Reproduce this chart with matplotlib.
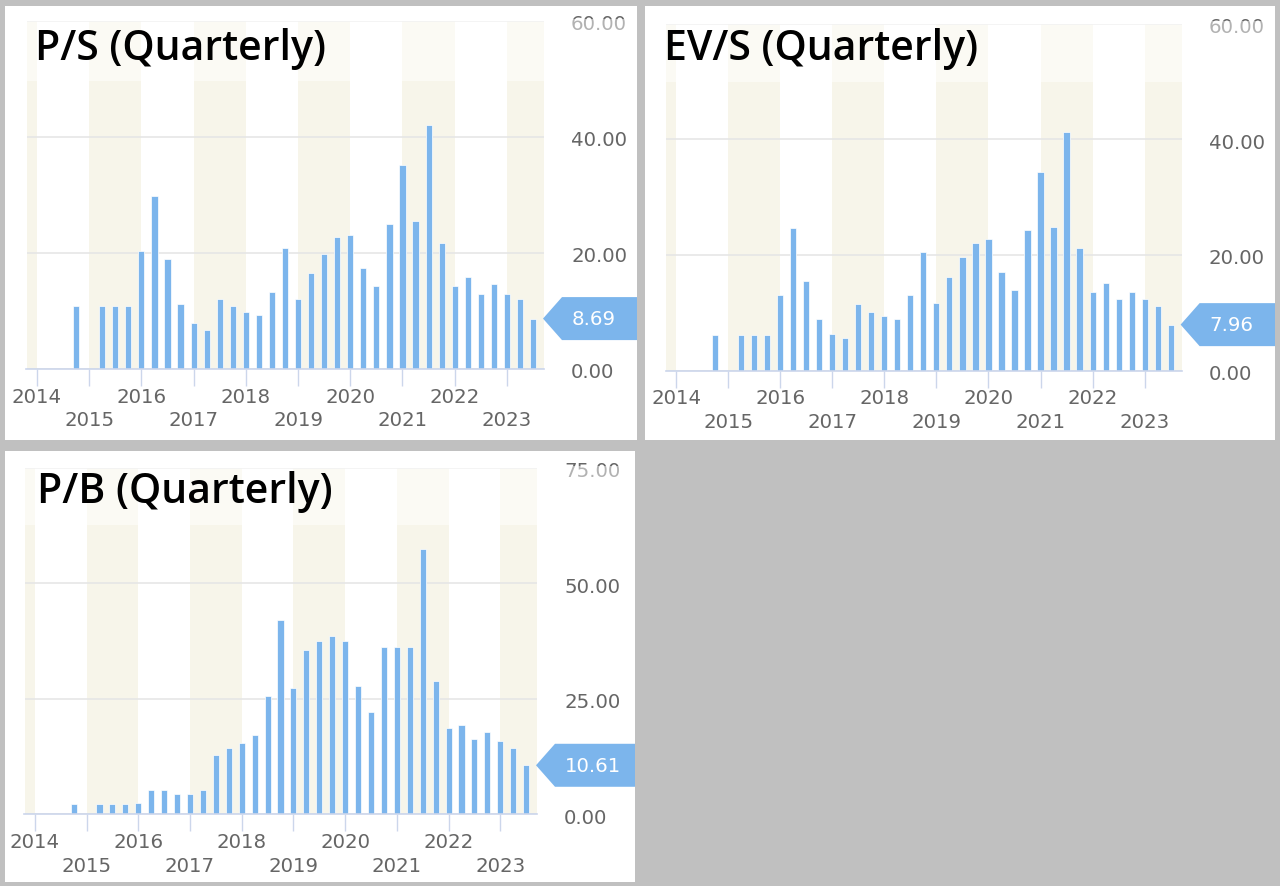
import matplotlib
matplotlib.use("Agg")
import matplotlib.pyplot as plt
import matplotlib.patches as mpatches
import matplotlib.transforms as mtransforms
from matplotlib.ticker import FormatStrFormatter

# ---------------- data ----------------
dates = ["2014-10",
         "2015-04", "2015-07", "2015-10",
         "2016-01", "2016-04", "2016-07", "2016-10",
         "2017-01", "2017-04", "2017-07", "2017-10",
         "2018-01", "2018-04", "2018-07", "2018-10",
         "2019-01", "2019-04", "2019-07", "2019-10",
         "2020-01", "2020-04", "2020-07", "2020-10",
         "2021-01", "2021-04", "2021-07", "2021-10",
         "2022-01", "2022-04", "2022-07", "2022-10",
         "2023-01", "2023-04", "2023-07"]

ps_values = [10.9, 10.9, 10.9, 10.9, 20.3, 29.8, 19.0, 11.2, 8.0, 6.8, 12.1, 10.9,
             9.9, 9.3, 13.3, 20.9, 12.1, 16.6, 19.9, 22.8, 23.1, 17.5, 14.3, 25.0,
             35.1, 25.6, 42.0, 21.8, 14.3, 15.9, 13.0, 14.6, 13.0, 12.1, 8.69]

evs_values = [6.1, 6.1, 6.1, 6.1, 13.0, 24.6, 15.5, 8.9, 6.4, 5.7, 11.5, 10.2,
              9.5, 8.9, 13.0, 20.5, 11.7, 16.2, 19.6, 22.1, 22.7, 17.1, 13.9, 24.3,
              34.4, 24.9, 41.3, 21.2, 13.6, 15.2, 12.4, 13.6, 12.4, 11.1, 7.96]

pb_values = [2.2, 2.2, 2.2, 2.2, 2.5, 5.3, 5.3, 4.5, 4.5, 5.3, 12.8, 14.3,
             15.5, 17.1, 25.7, 42.0, 27.3, 35.5, 37.5, 38.6, 37.5, 27.7, 22.2, 36.2,
             36.2, 36.2, 57.5, 28.8, 18.7, 19.4, 16.3, 17.9, 15.9, 14.3, 10.61]

titles = ["P/S (Quarterly)", "EV/S (Quarterly)", "P/B (Quarterly)"]
y_ticks_ps = [0, 20, 40, 60]
y_ticks_evs = [0, 20, 40, 60]
y_ticks_pb = [0, 25, 50, 75]
years = list(range(2014, 2024))

# ---------------- style ----------------
W, H = 1280, 886
BG = "#c0c0c0"
BAR = "#7cb5ec"
BAND = "#f7f5ea"
GRID = "#e6e6e6"
AXIS = "#ccd6eb"
LABEL = "#666666"

fig = plt.figure(figsize=(W / 100, H / 100), dpi=100)
fig.patch.set_facecolor(BG)

x_pos = [int(d[:4]) + (int(d[5:]) - 1) / 12 for d in dates]


def fx(px):
    return px / W


def fy(py):
    return 1 - py / H


def panel(box, plot, values, yticks, title, title_xy, overlay_bottom):
    px0, py0, px1, py1 = box
    # white card
    fig.add_artist(mpatches.Rectangle((fx(px0), fy(py1)), fx(px1 - px0), (py1 - py0) / H,
                                      transform=fig.transFigure, facecolor="white",
                                      edgecolor="none", zorder=-5))
    l, t, r, b = plot
    ax = fig.add_axes([fx(l), fy(b), fx(r - l), (b - t) / H])
    ax.set_facecolor("none")
    ax.set_xlim(2013.80, 2023.71)
    ax.set_ylim(yticks[0], yticks[-1])

    # alternating year bands
    band_edges = [2013.0] + [y for y in years] + [2024.5]
    for i in range(len(band_edges) - 1):
        if i % 2 == 0:
            ax.axvspan(band_edges[i], band_edges[i + 1], color=BAND, lw=0, zorder=0.1)

    ax.set_axisbelow(True)
    ax.yaxis.grid(True, color=GRID, lw=1.2)
    ax.bar(x_pos, values, width=0.118, color=BAR, edgecolor="white", linewidth=0.5, zorder=2)

    for s in ["left", "top", "right"]:
        ax.spines[s].set_visible(False)
    ax.spines["bottom"].set_color(AXIS)
    ax.spines["bottom"].set_linewidth(1.2)
    ax.spines["bottom"].set_zorder(3)

    # x ticks: even years on first row, odd years on second row
    ax.set_xticks([y for y in years if y % 2 == 0])
    ax.set_xticks([y for y in years if y % 2 == 1], minor=True)
    ax.set_xticklabels([str(y) for y in years if y % 2 == 0])
    ax.set_xticklabels([str(y) for y in years if y % 2 == 1], minor=True)
    ax.tick_params(axis="x", which="both", direction="out", length=12.2, width=1,
                   color=AXIS, labelcolor=LABEL, labelsize=14.2)
    ax.tick_params(axis="x", which="major", pad=1.2)
    ax.tick_params(axis="x", which="minor", pad=18.2)

    # y ticks on the right
    ax.yaxis.tick_right()
    ax.set_yticks(yticks)
    ax.yaxis.set_major_formatter(FormatStrFormatter("%.2f"))
    ax.tick_params(axis="y", length=0, pad=19.5, labelcolor=LABEL, labelsize=14.2)
    off = mtransforms.ScaledTranslation(0, -2 / 100, fig.dpi_scale_trans)
    for lab in ax.get_yticklabels():
        lab.set_transform(lab.get_transform() + off)

    # semi-transparent white title overlay
    fig.add_artist(mpatches.Rectangle((fx(px0), fy(overlay_bottom)), fx(px1 - px0),
                                      (overlay_bottom - t + 2) / H,
                                      transform=fig.transFigure, facecolor="white",
                                      edgecolor="none", alpha=0.5, zorder=5))
    fig.text(fx(title_xy[0]), fy(title_xy[1]), title, fontsize=29.5, family="Open Sans",
             fontweight="semibold", color="black", ha="left", va="baseline", zorder=6)

    # value flag for the latest point
    last = values[-1]
    fig.canvas.draw()
    yd = ax.transData.transform((x_pos[-1], last))[1]
    xr = ax.transAxes.transform((1, 0))[0]
    xe = px1 * (fig.dpi / 100)
    hh = 21.5
    verts = [(xr - 1, yd), (xr + 18, yd + hh), (xe, yd + hh), (xe, yd - hh), (xr + 18, yd - hh)]
    flag = mpatches.Polygon(verts, closed=True, transform=mtransforms.IdentityTransform(),
                            facecolor=BAR, edgecolor="none", zorder=7, clip_on=False)
    ax.add_artist(flag)
    tr = mtransforms.blended_transform_factory(ax.transAxes, ax.transData) + \
        mtransforms.ScaledTranslation(28 / 100, -1 / 100, fig.dpi_scale_trans)
    ax.text(1, last, f"{last:.2f}", transform=tr, color="white", fontsize=14.2,
            ha="left", va="center", clip_on=False, zorder=8)
    return ax


panel((5, 6, 637, 440), (26.5, 21, 544, 369), ps_values, y_ticks_ps, titles[0], (35, 60), 81)
panel((645, 6, 1275, 440), (665.7, 23.5, 1181.6, 370.7), evs_values, y_ticks_evs, titles[1], (664.5, 60), 82)
panel((5, 451, 635, 882), (24.5, 467.8, 537, 814.3), pb_values, y_ticks_pb, titles[2], (36.7, 503.3), 525)

fig.savefig("out.png", dpi=100, facecolor=BG)
